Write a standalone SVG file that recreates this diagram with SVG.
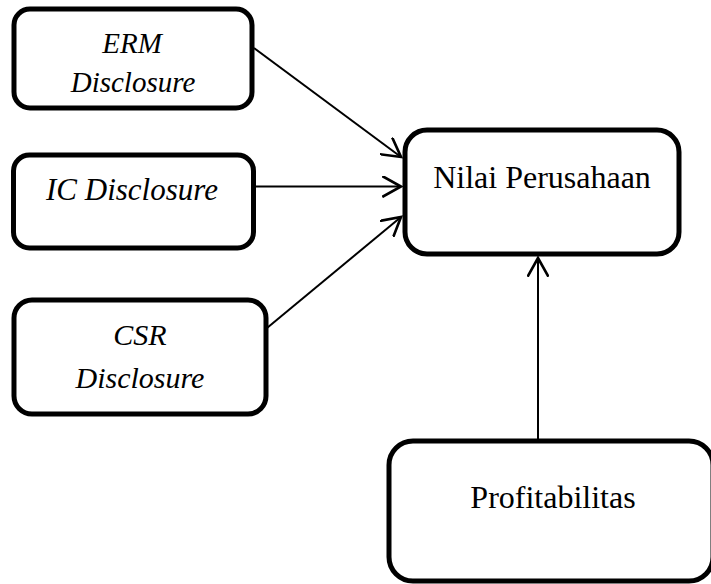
<svg xmlns="http://www.w3.org/2000/svg" width="711" height="584" viewBox="0 0 711 584">
<style>
.box{fill:#fff;stroke:#000;stroke-width:5}
.t{font-family:"Liberation Serif","Times New Roman",serif;fill:#000;text-anchor:middle}
.i{font-style:italic}
.c{stroke:#000;stroke-width:2;fill:none}
</style>
<defs>
<marker id="ah" markerUnits="userSpaceOnUse" markerWidth="22" markerHeight="22" refX="17" refY="10" orient="auto" viewBox="0 0 20 20">
<path d="M0,0.5 L17,10 L0,19.5" fill="none" stroke="#000" stroke-width="2.4"/>
</marker>
</defs>
<rect width="711" height="584" fill="#fff"/>
<g id="connectors">
<line class="c" x1="254" y1="48" x2="401" y2="157" marker-end="url(#ah)"/>
<line class="c" x1="255" y1="186.5" x2="401" y2="186.5" marker-end="url(#ah)"/>
<line class="c" x1="267" y1="328" x2="401" y2="217" marker-end="url(#ah)"/>
<line class="c" x1="538" y1="439" x2="538" y2="258" marker-end="url(#ah)"/>
</g>
<g id="erm">
<rect class="box" x="14" y="9" width="238" height="99" rx="16"/>
<text class="t i" x="132" y="53" font-size="29">ERM</text>
<text class="t i" x="133" y="92" font-size="29">Disclosure</text>
</g>
<g id="ic">
<rect class="box" x="13.5" y="155" width="240" height="93" rx="16"/>
<text class="t i" x="132" y="200" font-size="31">IC Disclosure</text>
</g>
<g id="csr">
<rect class="box" x="14" y="300" width="252" height="114" rx="18"/>
<text class="t i" x="140" y="345" font-size="30">CSR</text>
<text class="t i" x="140" y="388" font-size="30">Disclosure</text>
</g>
<g id="nilai">
<rect class="box" x="405" y="130" width="274" height="124" rx="22"/>
<text class="t" x="542" y="188" font-size="32">Nilai Perusahaan</text>
</g>
<g id="profit">
<rect class="box" x="389" y="441" width="324" height="140" rx="24"/>
<text class="t" x="553" y="508" font-size="32">Profitabilitas</text>
</g>
</svg>
